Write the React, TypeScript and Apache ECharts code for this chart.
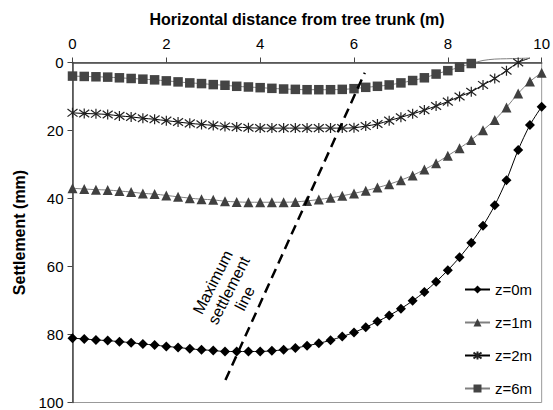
import React, { useEffect, useRef } from "react";
import * as echarts from "echarts";

const distance = [0, 0.25, 0.5, 0.75, 1, 1.25, 1.5, 1.75, 2, 2.25, 2.5, 2.75, 3, 3.25, 3.5, 3.75, 4, 4.25, 4.5, 4.75, 5, 5.25, 5.5, 5.75, 6, 6.25, 6.5, 6.75, 7, 7.25, 7.5, 7.75, 8, 8.25, 8.5, 8.75, 9, 9.25, 9.5, 9.75, 10];

const z0 = [81.1, 81.3, 81.6, 81.8, 82.1, 82.4, 82.8, 83.1, 83.5, 83.8, 84.2, 84.5, 84.7, 85.0, 85.0, 85.0, 85.0, 84.8, 84.5, 84.0, 83.3, 82.6, 81.7, 80.6, 79.4, 77.9, 76.2, 74.4, 72.4, 70.1, 67.5, 64.5, 61.1, 57.3, 53.0, 48.0, 42.0, 34.6, 25.7, 18.4, 13.0];
const z1 = [37.0, 37.2, 37.4, 37.5, 37.8, 38.1, 38.5, 38.7, 39.1, 39.5, 39.9, 40.2, 40.4, 40.8, 41.0, 41.1, 41.1, 41.1, 41.1, 41.0, 40.7, 40.3, 39.8, 39.2, 38.5, 37.7, 36.8, 35.8, 34.6, 33.2, 31.5, 29.6, 27.4, 25.2, 22.8, 19.9, 16.9, 13.2, 9.1, 5.6, 3.0];
const z2 = [14.8, 15.0, 15.1, 15.3, 15.7, 16.0, 16.4, 16.7, 17.1, 17.5, 17.9, 18.2, 18.5, 18.8, 19.0, 19.2, 19.3, 19.3, 19.3, 19.3, 19.3, 19.3, 19.3, 19.3, 19.2, 18.7, 18.1, 17.1, 16.1, 15.1, 14.0, 12.8, 11.5, 10.0, 8.6, 6.6, 4.7, 2.4, 0.0];
const z2Beyond = [-1.3];
const z6 = [4.0, 4.1, 4.2, 4.3, 4.5, 4.7, 4.9, 5.1, 5.4, 5.7, 6.0, 6.2, 6.5, 6.7, 7.0, 7.2, 7.4, 7.6, 7.8, 7.9, 8.0, 8.0, 8.0, 7.9, 7.7, 7.3, 7.0, 6.6, 6.0, 5.3, 4.5, 3.4, 2.4, 1.4, 0.3];
const z6Beyond = [-0.6, -1.0, -1.1, -1.2, -1.3];

const seriesNames = ["z=0m", "z=1m", "z=2m", "z=6m"];
const maxLineX = [3.26, 6.23];
const maxLineY = [93.4, 3.0];
const annotationAt = [3.33, 67];
const annotationText = "Maximum\nsettlement\nline";

const xTicks = [0, 2, 4, 6, 8, 10];
const yTicks = [0, 20, 40, 60, 80, 100];

const FONT = "'Liberation Sans', Arial, sans-serif";
const STAR = "path://M5,0L5,10M1.2,1.2L8.8,8.8M1.2,8.8L8.8,1.2";

function build(values: number[], beyond: number[] = []) {
  const pts: any[] = values.map((v, i) => [distance[i], v]);
  beyond.forEach((v, j) => {
    pts.push({ value: [distance[values.length + j], v], symbol: "none" });
  });
  return pts;
}

export default function App() {
  const ref = useRef<HTMLDivElement>(null);
  useEffect(() => {
    document.body.style.margin = "0";
    if (!ref.current) return;
    const chart = echarts.init(ref.current, null, { renderer: "svg" });
    chart.setOption({
      animation: false,
      backgroundColor: "#ffffff",
      textStyle: { fontFamily: FONT },
      title: {
        text: "Horizontal distance from tree trunk (m)",
        left: 292,
        top: 6,
        textAlign: "center",
        textStyle: { fontSize: 16, fontWeight: "bold", color: "#000", fontFamily: FONT },
      },
      grid: {
        left: 72.5,
        right: 8,
        top: 62.5,
        bottom: 7.5,
        show: true,
        borderColor: "#999",
        borderWidth: 1,
      },
      legend: {
        data: seriesNames,
        orient: "vertical",
        left: 459,
        top: 277,
        itemWidth: 25,
        itemHeight: 10,
        itemGap: 18,
        textStyle: { fontSize: 15, color: "#000", fontFamily: FONT },
      },
      xAxis: {
        type: "value",
        position: "top",
        min: xTicks[0],
        max: xTicks[xTicks.length - 1],
        interval: 2,
        axisLine: { lineStyle: { color: "#444", width: 1.5 } },
        axisTick: { show: true, length: 5, lineStyle: { color: "#444" } },
        axisLabel: { fontSize: 15, color: "#000", margin: 12, fontFamily: FONT },
        splitLine: { show: false },
      },
      yAxis: {
        type: "value",
        inverse: true,
        min: yTicks[0],
        max: yTicks[yTicks.length - 1],
        interval: 20,
        name: "Settlement (mm)",
        nameLocation: "middle",
        nameGap: 42,
        nameTextStyle: { fontSize: 16, fontWeight: "bold", color: "#000", fontFamily: FONT },
        axisLine: { lineStyle: { color: "#444", width: 1.5 } },
        axisTick: { show: true, length: 5, lineStyle: { color: "#444" } },
        axisLabel: { fontSize: 15, color: "#000", margin: 9, fontFamily: FONT },
        splitLine: { show: false },
      },
      series: [
        {
          name: seriesNames[0],
          type: "line",
          data: build(z0),
          smooth: 0.3,
          symbol: "diamond",
          symbolSize: 10,
          itemStyle: { color: "#000" },
          lineStyle: { color: "#000", width: 1 },
          clip: false,
          z: 5,
        },
        {
          name: seriesNames[1],
          type: "line",
          data: build(z1),
          smooth: 0.3,
          symbol: "triangle",
          symbolSize: 10,
          itemStyle: { color: "#404040" },
          lineStyle: { color: "#808080", width: 1 },
          clip: false,
          z: 4,
        },
        {
          name: seriesNames[2],
          type: "line",
          data: build(z2, z2Beyond),
          smooth: 0.3,
          symbol: STAR,
          symbolSize: 10,
          itemStyle: { color: "#222", borderColor: "#222", borderWidth: 1.2 },
          lineStyle: { color: "#000", width: 1 },
          clip: false,
          z: 4,
        },
        {
          name: seriesNames[3],
          type: "line",
          data: build(z6, z6Beyond),
          smooth: 0.3,
          symbol: "rect",
          symbolSize: 9.5,
          itemStyle: { color: "#444" },
          lineStyle: { color: "#808080", width: 1 },
          clip: false,
          z: 4,
        },
        {
          name: "max line",
          type: "line",
          data: maxLineX.map((x, i) => [x, maxLineY[i]]),
          symbol: "none",
          lineStyle: { color: "#000", width: 2.5, type: [10, 6] },
          silent: true,
          z: 6,
        },
      ],
    });
    const p = chart.convertToPixel({ gridIndex: 0 }, annotationAt) as number[];
    chart.setOption({
      graphic: [
        {
          type: "text",
          x: p[0],
          y: p[1],
          rotation: (63 * Math.PI) / 180,
          silent: true,
          style: {
            text: annotationText,
            fontSize: 16,
            fontFamily: FONT,
            lineHeight: 18,
            align: "center",
            verticalAlign: "middle",
            fill: "#000",
          },
        },
      ],
    });
    return () => chart.dispose();
  }, []);
  return <div ref={ref} style={{ width: 553, height: 410 }} />;
}
